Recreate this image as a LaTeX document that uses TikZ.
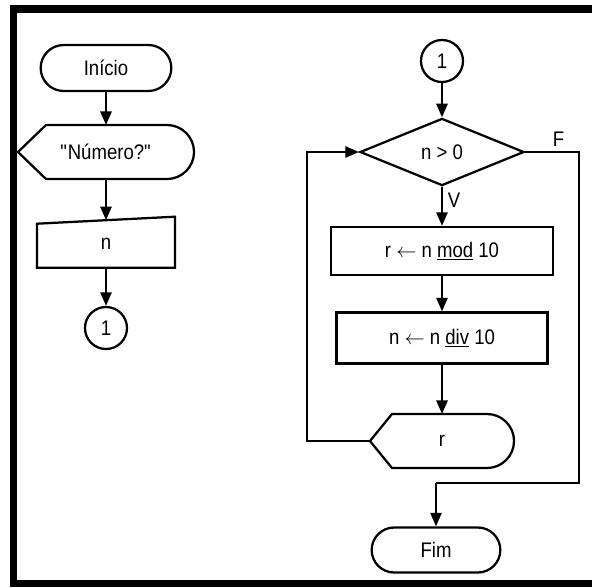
\documentclass[tikz,border=0pt]{standalone}
\usepackage{fontspec}
\setmainfont{Liberation Sans}[FakeStretch=0.88]
\usetikzlibrary{arrows.meta,shapes.geometric,shapes.misc}
\tikzset{
    flow chart/.style = {>={Triangle[length=3.4mm, width=2.8mm]},
                         x=0.025cm, y=-0.025cm,
                         font=\fontsize{15pt}{18pt}\selectfont},
    line/.style       = {line width=1.6pt},
    terminal/.style   = {rounded rectangle, draw, line,
                         minimum width=3.5cm, minimum height=1.15cm},
    process/.style    = {draw, line, minimum height=1.2cm},
    decision/.style   = {diamond, draw, line, aspect=2.45, inner sep=0pt,
                         minimum width=4.1cm, minimum height=1.68cm},
    connector/.style  = {circle, draw, line, minimum size=1.05cm,
                         inner sep=0pt},
    display/.style    = {outer sep=0pt, minimum height=1.35cm},
    manual/.style     = {outer sep=0pt, minimum width=3.45cm,
                         minimum height=1.19cm},
    frame/.style      = {fill=black}
}
% Display outline: pointed left end, round right end.
\newcommand\drawdisplay[3]{%
    \draw[line] ([xshift=#2]#1.north west) -- (#1.west)
        -- ([xshift=#2]#1.south west) -- ([xshift=-#3]#1.south east)
        arc[start angle=-90, end angle=90, radius=#3] -- cycle;}
% Manual input outline: slanted top edge.
\newcommand\drawmanual[2]{%
    \draw[line] (#1.south west) -- ([yshift=-#2]#1.north west)
        -- ([yshift=#2]#1.north east) -- (#1.south east) -- cycle;}
\def\leftcol{106}
\def\rightcol{442}

\begin{document}
\begin{tikzpicture}[flow chart]
\useasboundingbox (0,0) rectangle (592,587);

% Frame of the scanned page.
\fill[frame] (10,5) rectangle (592,13);
\fill[frame] (10,5) rectangle (17,587);
\fill[frame] (10,580) rectangle (592,587);

% Left part: read the number.
\node[terminal] (start) at (\leftcol,68) {Início};
\node[display, minimum width=4.4cm] (ask) at (\leftcol,152)
    {\textquotedbl Número?\textquotedbl};
\drawdisplay{ask}{0.7cm}{0.675cm}
\node[manual] (read) at (\leftcol,244) {n};
\drawmanual{read}{0.0875cm}
\node[connector] (goto) at (\leftcol,328) {1};
\draw[->, line] (start.south) -- (ask.north);
\draw[->, line] (ask.south) -- (read.north);
\draw[->, line] (read.south) -- (goto.north);

% Right part: print the digits one by one.
\node[connector] (from) at (\rightcol,61) {1};
\node[decision] (test) at (\rightcol,152) {n > 0};
\node[process, minimum width=5.55cm] (digit) at (\rightcol,251)
    {r $\leftarrow$ n \underline{mod} 10};
\node[process, minimum width=5.275cm, minimum height=1.275cm] (shift)
    at (\rightcol,338) {n $\leftarrow$ n \underline{div} 10};
\node[display, minimum width=3.6cm] (show) at (\rightcol,441) {r};
\drawdisplay{show}{0.55cm}{0.675cm}
\node[terminal, minimum width=3.45cm, minimum height=1.125cm] (stop)
    at (436,550) {Fim};
\coordinate (merge) at (436,483);

\draw[->, line] (from.south) -- (test.north);
\draw[->, line] (test.south) -- node[right, pos=0.35] {V} (digit.north);
\draw[->, line] (digit.south) -- (shift.north);
\draw[->, line] (shift.south) -- (show.north);

% Loop back to the test, and the way out on F.
\draw[->, line] (show.west) -- ++(-63,0) |- (test.west);
\draw[line] (test.east) -- node[above, pos=0.62] {F} ++(54,0) |- (merge);
\draw[->, line] (merge) -- (stop.north);

\end{tikzpicture}
\end{document}
